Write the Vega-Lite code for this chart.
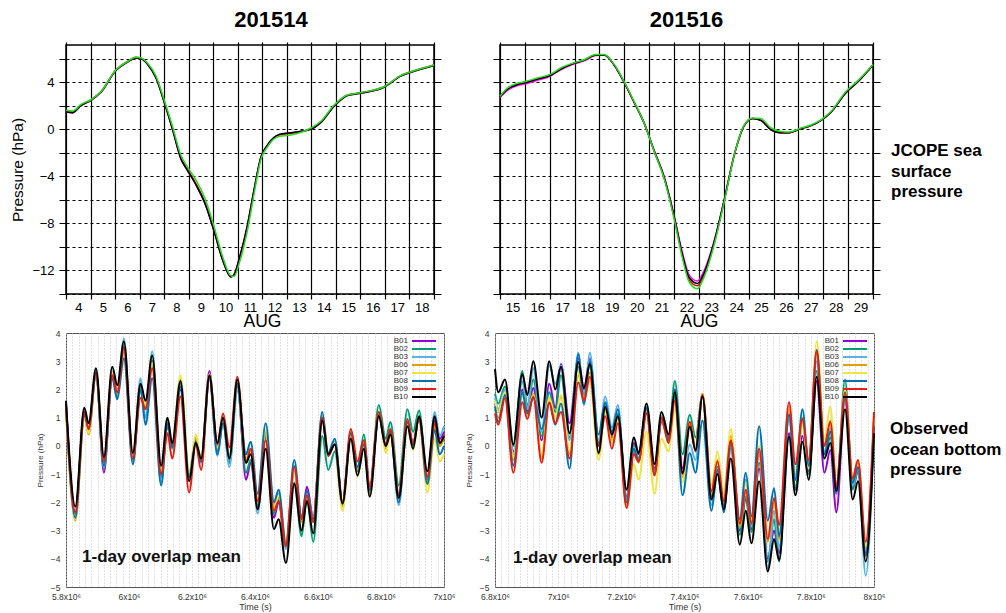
{
  "$schema": "https://vega.github.io/schema/vega-lite/v6.json",
  "background": "white",
  "padding": {"left": 10, "top": 8, "right": 5, "bottom": 0},
  "config": {
    "font": "Liberation Sans",
    "view": {"stroke": null},
    "axis": {"domain": false, "labelFont": "Liberation Sans", "titleFont": "Liberation Sans"},
    "title": {"font": "Liberation Sans"},
    "legend": {"labelFont": "Liberation Sans"}
  },
  "datasets": {
    "top1": [
      {"d":4.0,"m":1.45,"r":1.5,"k":1.45,"g":1.6},
      {"d":4.27,"m":1.4,"r":1.45,"k":1.4,"g":1.55},
      {"d":4.61,"m":2.0,"r":2.05,"k":2.0,"g":2.1},
      {"d":5.02,"m":2.45,"r":2.5,"k":2.45,"g":2.5},
      {"d":5.43,"m":3.15,"r":3.2,"k":3.15,"g":3.2},
      {"d":6.04,"m":5.0,"r":5.05,"k":5.0,"g":5.05},
      {"d":6.51,"m":5.7,"r":5.75,"k":5.7,"g":5.75},
      {"d":6.85,"m":6.05,"r":6.1,"k":6.05,"g":6.1},
      {"d":7.05,"m":6.0,"r":6.05,"k":6.0,"g":6.05},
      {"d":7.33,"m":5.5,"r":5.55,"k":5.5,"g":5.6},
      {"d":7.67,"m":4.35,"r":4.4,"k":4.35,"g":4.5},
      {"d":8.0,"m":2.3,"r":2.4,"k":2.3,"g":2.5},
      {"d":8.34,"m":0.0,"r":0.1,"k":0.0,"g":0.25},
      {"d":8.68,"m":-2.5,"r":-2.4,"k":-2.5,"g":-2.2},
      {"d":8.95,"m":-3.5,"r":-3.4,"k":-3.5,"g":-3.2},
      {"d":9.29,"m":-4.7,"r":-4.6,"k":-4.7,"g":-4.3},
      {"d":9.66,"m":-6.3,"r":-6.2,"k":-6.3,"g":-5.85},
      {"d":10.04,"m":-8.7,"r":-8.6,"k":-8.7,"g":-8.3},
      {"d":10.38,"m":-11.1,"r":-11.0,"k":-11.1,"g":-10.8},
      {"d":10.72,"m":-12.55,"r":-12.5,"k":-12.55,"g":-12.45},
      {"d":10.85,"m":-12.35,"r":-12.4,"k":-12.35,"g":-12.5},
      {"d":11.06,"m":-11.0,"r":-11.1,"k":-11.0,"g":-11.4},
      {"d":11.4,"m":-8.1,"r":-8.2,"k":-8.1,"g":-8.55},
      {"d":11.67,"m":-5.1,"r":-5.2,"k":-5.1,"g":-5.45},
      {"d":11.94,"m":-2.4,"r":-2.45,"k":-2.4,"g":-2.6},
      {"d":12.21,"m":-1.35,"r":-1.4,"k":-1.35,"g":-1.5},
      {"d":12.69,"m":-0.45,"r":-0.5,"k":-0.45,"g":-0.6},
      {"d":13.16,"m":-0.3,"r":-0.35,"k":-0.3,"g":-0.5},
      {"d":13.98,"m":0.0,"r":0.05,"k":0.0,"g":0.1},
      {"d":14.38,"m":0.55,"r":0.6,"k":0.55,"g":0.65},
      {"d":14.93,"m":1.95,"r":2.0,"k":1.95,"g":2.05},
      {"d":15.47,"m":2.85,"r":2.9,"k":2.85,"g":2.9},
      {"d":16.01,"m":3.05,"r":3.1,"k":3.05,"g":3.1},
      {"d":16.96,"m":3.55,"r":3.6,"k":3.55,"g":3.6},
      {"d":17.64,"m":4.5,"r":4.55,"k":4.5,"g":4.55},
      {"d":18.32,"m":5.0,"r":5.05,"k":5.0,"g":5.05},
      {"d":19.0,"m":5.4,"r":5.45,"k":5.4,"g":5.45}
    ],
    "top2": [
      {"d":15.0,"m":2.7,"r":2.75,"k":2.75,"g":2.8},
      {"d":15.3,"m":3.3,"r":3.4,"k":3.4,"g":3.5},
      {"d":15.7,"m":3.7,"r":3.8,"k":3.8,"g":3.9},
      {"d":16.02,"m":3.85,"r":3.95,"k":3.95,"g":4.05},
      {"d":16.5,"m":4.15,"r":4.25,"k":4.25,"g":4.35},
      {"d":17.01,"m":4.5,"r":4.55,"k":4.55,"g":4.65},
      {"d":17.44,"m":5.05,"r":5.1,"k":5.1,"g":5.2},
      {"d":17.91,"m":5.5,"r":5.55,"k":5.55,"g":5.6},
      {"d":18.38,"m":5.8,"r":5.85,"k":5.85,"g":5.9},
      {"d":18.85,"m":6.25,"r":6.3,"k":6.3,"g":6.35},
      {"d":19.19,"m":6.3,"r":6.3,"k":6.3,"g":6.35},
      {"d":19.59,"m":5.45,"r":5.45,"k":5.45,"g":5.5},
      {"d":19.99,"m":4.0,"r":4.0,"k":4.0,"g":4.05},
      {"d":20.39,"m":2.3,"r":2.3,"k":2.3,"g":2.35},
      {"d":20.8,"m":0.5,"r":0.5,"k":0.5,"g":0.5},
      {"d":21.2,"m":-1.8,"r":-1.85,"k":-1.85,"g":-1.9},
      {"d":21.6,"m":-4.0,"r":-4.1,"k":-4.1,"g":-4.2},
      {"d":22.0,"m":-7.3,"r":-7.45,"k":-7.4,"g":-7.6},
      {"d":22.34,"m":-10.5,"r":-10.8,"k":-10.7,"g":-11.0},
      {"d":22.61,"m":-12.4,"r":-12.8,"k":-12.6,"g":-13.0},
      {"d":22.94,"m":-12.9,"r":-13.3,"k":-13.1,"g":-13.55},
      {"d":23.21,"m":-12.0,"r":-12.35,"k":-12.2,"g":-12.55},
      {"d":23.61,"m":-9.5,"r":-9.7,"k":-9.6,"g":-9.85},
      {"d":24.02,"m":-5.95,"r":-6.05,"k":-6.0,"g":-6.15},
      {"d":24.42,"m":-2.15,"r":-2.2,"k":-2.2,"g":-2.2},
      {"d":24.82,"m":0.3,"r":0.3,"k":0.3,"g":0.35},
      {"d":25.16,"m":0.9,"r":0.9,"k":0.9,"g":0.95},
      {"d":25.49,"m":0.75,"r":0.75,"k":0.75,"g":0.9},
      {"d":25.9,"m":-0.05,"r":-0.05,"k":-0.05,"g":0.1},
      {"d":26.3,"m":-0.3,"r":-0.3,"k":-0.3,"g":-0.2},
      {"d":26.63,"m":-0.3,"r":-0.3,"k":-0.3,"g":-0.25},
      {"d":27.1,"m":0.05,"r":0.05,"k":0.05,"g":0.1},
      {"d":27.5,"m":0.3,"r":0.3,"k":0.3,"g":0.35},
      {"d":27.91,"m":0.75,"r":0.75,"k":0.75,"g":0.8},
      {"d":28.31,"m":1.45,"r":1.45,"k":1.45,"g":1.5},
      {"d":28.91,"m":3.1,"r":3.1,"k":3.1,"g":3.2},
      {"d":29.38,"m":4.0,"r":4.0,"k":4.0,"g":4.1},
      {"d":30.0,"m":5.45,"r":5.45,"k":5.45,"g":5.5}
    ],
    "bot1": [
      {"t":5800000,"B01":1.5,"B02":1.45,"B03":1.4,"B06":1.3,"B07":1.25,"B08":1.45,"B09":1.35,"B10":1.6},
      {"t":5829600,"B01":-2.4,"B02":-2.45,"B03":-2.5,"B06":-2.65,"B07":-2.6,"B08":-2.55,"B09":-2.35,"B10":-2.15},
      {"t":5858100,"B01":1.2,"B02":1.15,"B03":1.1,"B06":1.05,"B07":1.0,"B08":1.1,"B09":1.2,"B10":1.35},
      {"t":5871800,"B01":0.45,"B02":0.55,"B03":0.5,"B06":0.4,"B07":0.45,"B08":0.6,"B09":0.6,"B10":0.8},
      {"t":5895100,"B01":2.6,"B02":2.6,"B03":2.65,"B06":2.55,"B07":2.6,"B08":2.55,"B09":2.6,"B10":2.75},
      {"t":5920400,"B01":-0.95,"B02":-0.8,"B03":-0.75,"B06":-0.6,"B07":-0.5,"B08":-0.7,"B09":-0.55,"B10":-0.4},
      {"t":5946800,"B01":2.6,"B02":2.6,"B03":2.55,"B06":2.5,"B07":2.6,"B08":2.4,"B09":2.5,"B10":2.8},
      {"t":5962700,"B01":1.9,"B02":1.85,"B03":1.75,"B06":1.85,"B07":1.9,"B08":1.65,"B09":1.9,"B10":2.15},
      {"t":5983800,"B01":3.5,"B02":3.5,"B03":3.8,"B06":3.3,"B07":3.4,"B08":3.1,"B09":3.45,"B10":3.7},
      {"t":6012300,"B01":-0.45,"B02":-0.5,"B03":-0.55,"B06":-0.4,"B07":-0.35,"B08":-0.65,"B09":-0.45,"B10":-0.25},
      {"t":6036600,"B01":2.1,"B02":2.15,"B03":2.4,"B06":1.95,"B07":2.0,"B08":2.0,"B09":1.7,"B10":2.2},
      {"t":6052500,"B01":1.35,"B02":1.3,"B03":1.0,"B06":1.4,"B07":1.45,"B08":0.75,"B09":1.3,"B10":1.6},
      {"t":6073600,"B01":3.0,"B02":3.0,"B03":3.35,"B06":2.9,"B07":2.95,"B08":2.4,"B09":2.75,"B10":3.2},
      {"t":6102100,"B01":-1.0,"B02":-1.1,"B03":-1.3,"B06":-0.9,"B07":-0.85,"B08":-1.4,"B09":-1.0,"B10":-0.7},
      {"t":6122200,"B01":0.7,"B02":0.85,"B03":0.8,"B06":0.9,"B07":0.95,"B08":0.8,"B09":0.45,"B10":1.0},
      {"t":6137000,"B01":0.0,"B02":-0.1,"B03":-0.1,"B06":0.0,"B07":0.1,"B08":-0.05,"B09":-0.45,"B10":0.1},
      {"t":6163400,"B01":2.0,"B02":2.2,"B03":2.15,"B06":2.35,"B07":2.5,"B08":2.1,"B09":1.75,"B10":2.3},
      {"t":6190800,"B01":-1.1,"B02":-1.05,"B03":-1.1,"B06":-1.0,"B07":-0.95,"B08":-1.1,"B09":-1.65,"B10":-1.25},
      {"t":6212000,"B01":0.2,"B02":0.2,"B03":0.15,"B06":0.3,"B07":0.4,"B08":0.15,"B09":0.05,"B10":0.1},
      {"t":6228900,"B01":-0.5,"B02":-0.55,"B03":-0.6,"B06":-0.5,"B07":-0.45,"B08":-0.55,"B09":-0.85,"B10":-0.45},
      {"t":6255300,"B01":2.65,"B02":2.5,"B03":2.4,"B06":2.5,"B07":2.55,"B08":2.4,"B09":2.45,"B10":2.5},
      {"t":6280600,"B01":-0.15,"B02":-0.2,"B03":-0.35,"B06":-0.1,"B07":-0.05,"B08":-0.3,"B09":0.05,"B10":0.1},
      {"t":6298600,"B01":0.95,"B02":0.9,"B03":0.85,"B06":0.95,"B07":0.9,"B08":0.8,"B09":1.15,"B10":1.0},
      {"t":6318600,"B01":-0.6,"B02":-0.6,"B03":-0.75,"B06":-0.4,"B07":-0.35,"B08":-0.45,"B09":-0.05,"B10":-0.45},
      {"t":6344000,"B01":2.2,"B02":2.1,"B03":1.95,"B06":2.25,"B07":2.3,"B08":2.2,"B09":2.45,"B10":2.35},
      {"t":6371500,"B01":-1.2,"B02":-0.95,"B03":-0.5,"B06":-0.45,"B07":-0.5,"B08":-0.3,"B09":-0.6,"B10":-0.6},
      {"t":6386200,"B01":-0.6,"B02":-0.5,"B03":-0.1,"B06":-0.15,"B07":-0.1,"B08":0.15,"B09":-0.1,"B10":-0.3},
      {"t":6408400,"B01":-2.2,"B02":-2.1,"B03":-2.4,"B06":-2.0,"B07":-1.9,"B08":-1.7,"B09":-1.95,"B10":-2.25},
      {"t":6433800,"B01":0.3,"B02":0.35,"B03":0.5,"B06":0.4,"B07":0.55,"B08":0.8,"B09":0.2,"B10":-0.1},
      {"t":6460200,"B01":-2.55,"B02":-2.4,"B03":-2.1,"B06":-2.3,"B07":-2.2,"B08":-2.0,"B09":-2.3,"B10":-2.95},
      {"t":6475000,"B01":-2.0,"B02":-1.9,"B03":-1.7,"B06":-1.8,"B07":-1.75,"B08":-1.55,"B09":-1.95,"B10":-2.6},
      {"t":6498200,"B01":-3.5,"B02":-3.6,"B03":-3.65,"B06":-3.45,"B07":-3.4,"B08":-3.5,"B09":-3.55,"B10":-4.15},
      {"t":6524600,"B01":-0.8,"B02":-1.3,"B03":-0.7,"B06":-0.8,"B07":-0.8,"B08":-0.5,"B09":-0.75,"B10":-1.35},
      {"t":6547900,"B01":-2.6,"B02":-3.2,"B03":-2.6,"B06":-2.7,"B07":-2.6,"B08":-2.5,"B09":-2.6,"B10":-3.0},
      {"t":6564800,"B01":-1.45,"B02":-1.85,"B03":-1.7,"B06":-1.75,"B07":-1.7,"B08":-1.6,"B09":-1.75,"B10":-1.95},
      {"t":6584800,"B01":-2.55,"B02":-3.4,"B03":-2.7,"B06":-2.7,"B07":-2.6,"B08":-2.6,"B09":-2.7,"B10":-3.1},
      {"t":6613400,"B01":1.0,"B02":0.35,"B03":1.1,"B06":1.05,"B07":1.1,"B08":1.2,"B09":1.0,"B10":0.9},
      {"t":6632400,"B01":-0.35,"B02":-0.85,"B03":-0.3,"B06":-0.3,"B07":-0.25,"B08":-0.25,"B09":-0.35,"B10":-0.3},
      {"t":6653500,"B01":0.1,"B02":-0.2,"B03":0.15,"B06":0.1,"B07":0.1,"B08":0.25,"B09":0.05,"B10":0.05},
      {"t":6677800,"B01":-2.1,"B02":-2.1,"B03":-2.05,"B06":-2.15,"B07":-2.3,"B08":-2.0,"B09":-2.0,"B10":-2.05},
      {"t":6704200,"B01":0.4,"B02":0.35,"B03":0.4,"B06":0.5,"B07":0.35,"B08":0.45,"B09":0.6,"B10":0.25},
      {"t":6725300,"B01":-0.85,"B02":-0.9,"B03":-0.85,"B06":-0.8,"B07":-1.1,"B08":-0.75,"B09":-0.55,"B10":-1.05},
      {"t":6745400,"B01":0.1,"B02":0.4,"B03":0.05,"B06":0.15,"B07":-0.05,"B08":0.05,"B09":0.2,"B10":-0.1},
      {"t":6764400,"B01":-1.6,"B02":-1.55,"B03":-1.6,"B06":-1.6,"B07":-1.75,"B08":-1.55,"B09":-1.45,"B10":-1.8},
      {"t":6792900,"B01":1.15,"B02":1.45,"B03":1.1,"B06":1.2,"B07":1.15,"B08":1.1,"B09":1.2,"B10":1.05},
      {"t":6815100,"B01":0.05,"B02":0.25,"B03":0.0,"B06":-0.1,"B07":-0.25,"B08":0.0,"B09":0.05,"B10":0.0},
      {"t":6829900,"B01":0.5,"B02":0.85,"B03":0.5,"B06":0.5,"B07":0.4,"B08":0.5,"B09":0.6,"B10":0.4},
      {"t":6856300,"B01":-1.7,"B02":-1.4,"B03":-2.1,"B06":-1.8,"B07":-1.9,"B08":-2.0,"B09":-1.75,"B10":-1.85},
      {"t":6883800,"B01":0.8,"B02":1.3,"B03":0.8,"B06":0.8,"B07":0.75,"B08":0.85,"B09":0.95,"B10":0.7},
      {"t":6901700,"B01":0.05,"B02":0.5,"B03":0.1,"B06":0.0,"B07":-0.15,"B08":0.05,"B09":0.1,"B10":-0.1},
      {"t":6920700,"B01":1.0,"B02":1.25,"B03":1.0,"B06":1.0,"B07":0.95,"B08":1.0,"B09":1.0,"B10":1.05},
      {"t":6947100,"B01":-1.2,"B02":-1.1,"B03":-1.3,"B06":-1.3,"B07":-1.65,"B08":-1.35,"B09":-1.1,"B10":-0.9},
      {"t":6970400,"B01":0.9,"B02":0.6,"B03":1.2,"B06":0.7,"B07":0.25,"B08":0.55,"B09":0.8,"B10":1.05},
      {"t":6986200,"B01":0.25,"B02":0.0,"B03":0.35,"B06":0.0,"B07":-0.55,"B08":-0.3,"B09":0.1,"B10":0.1},
      {"t":7000000,"B01":0.5,"B02":0.3,"B03":0.7,"B06":0.3,"B07":-0.3,"B08":0.0,"B09":0.4,"B10":0.35}
    ],
    "bot2": [
      {"t":6800000,"B01":1.5,"B02":1.85,"B03":1.7,"B06":1.3,"B07":1.6,"B08":1.4,"B09":1.15,"B10":2.72},
      {"t":6810500,"B01":1.2,"B02":1.5,"B03":1.3,"B06":1.0,"B07":1.2,"B08":0.85,"B09":0.75,"B10":1.9},
      {"t":6831600,"B01":1.9,"B02":2.1,"B03":2.0,"B06":1.85,"B07":1.9,"B08":1.8,"B09":1.7,"B10":2.35},
      {"t":6858000,"B01":-0.2,"B02":0.0,"B03":-0.3,"B06":-0.5,"B07":-0.4,"B08":-0.7,"B09":-0.95,"B10":0.05},
      {"t":6886500,"B01":2.0,"B02":2.65,"B03":2.3,"B06":1.9,"B07":1.85,"B08":1.9,"B09":1.55,"B10":2.55},
      {"t":6902300,"B01":1.2,"B02":1.4,"B03":1.3,"B06":1.1,"B07":1.1,"B08":1.15,"B09":0.95,"B10":1.8},
      {"t":6921300,"B01":2.05,"B02":2.35,"B03":2.75,"B06":1.85,"B07":1.8,"B08":1.7,"B09":1.75,"B10":3.0},
      {"t":6947600,"B01":0.2,"B02":0.35,"B03":0.5,"B06":-0.45,"B07":-0.3,"B08":0.6,"B09":-0.6,"B10":1.0},
      {"t":6971900,"B01":2.2,"B02":1.9,"B03":2.85,"B06":1.7,"B07":1.7,"B08":1.5,"B09":1.55,"B10":3.0},
      {"t":6990900,"B01":1.35,"B02":1.2,"B03":2.2,"B06":1.0,"B07":1.0,"B08":0.75,"B09":0.8,"B10":2.0},
      {"t":7008800,"B01":2.9,"B02":2.5,"B03":2.85,"B06":1.75,"B07":1.8,"B08":1.5,"B09":1.2,"B10":2.8},
      {"t":7036200,"B01":0.8,"B02":0.3,"B03":0.2,"B06":-0.3,"B07":-0.2,"B08":-0.8,"B09":-0.45,"B10":0.45},
      {"t":7063600,"B01":3.1,"B02":2.8,"B03":3.3,"B06":2.5,"B07":2.6,"B08":3.25,"B09":2.25,"B10":2.97},
      {"t":7081600,"B01":2.0,"B02":1.8,"B03":1.45,"B06":1.7,"B07":1.65,"B08":1.5,"B09":1.6,"B10":2.05},
      {"t":7100500,"B01":3.1,"B02":2.9,"B03":3.3,"B06":2.6,"B07":2.3,"B08":3.0,"B09":2.45,"B10":2.9},
      {"t":7128000,"B01":0.05,"B02":0.1,"B03":0.2,"B06":-0.3,"B07":-0.5,"B08":0.4,"B09":0.0,"B10":-0.25},
      {"t":7149000,"B01":1.4,"B02":1.5,"B03":1.75,"B06":1.3,"B07":1.2,"B08":1.55,"B09":1.05,"B10":1.38},
      {"t":7170100,"B01":0.3,"B02":0.35,"B03":0.65,"B06":0.2,"B07":0.1,"B08":0.5,"B09":-0.1,"B10":0.4},
      {"t":7189100,"B01":1.1,"B02":1.15,"B03":1.45,"B06":1.0,"B07":0.9,"B08":1.3,"B09":0.8,"B10":1.05},
      {"t":7216500,"B01":-1.8,"B02":-1.85,"B03":-1.9,"B06":-2.1,"B07":-2.15,"B08":-2.0,"B09":-2.2,"B10":-1.55},
      {"t":7239700,"B01":0.1,"B02":0.0,"B03":-0.05,"B06":-0.2,"B07":-0.65,"B08":-0.1,"B09":-0.3,"B10":0.3},
      {"t":7254500,"B01":-0.3,"B02":-0.45,"B03":-0.5,"B06":-0.6,"B07":-1.2,"B08":-0.55,"B09":-0.55,"B10":-0.25},
      {"t":7279800,"B01":1.35,"B02":1.3,"B03":1.4,"B06":1.2,"B07":0.5,"B08":1.35,"B09":1.15,"B10":1.5},
      {"t":7305100,"B01":-0.8,"B02":-0.85,"B03":-0.95,"B06":-1.0,"B07":-1.7,"B08":-1.0,"B09":-1.05,"B10":-0.65},
      {"t":7327300,"B01":0.85,"B02":1.0,"B03":1.05,"B06":0.9,"B07":0.25,"B08":1.0,"B09":1.0,"B10":1.2},
      {"t":7349400,"B01":0.3,"B02":0.25,"B03":0.2,"B06":0.15,"B07":-0.2,"B08":0.2,"B09":0.1,"B10":0.4},
      {"t":7369400,"B01":2.0,"B02":2.3,"B03":1.8,"B06":1.7,"B07":1.3,"B08":1.8,"B09":1.6,"B10":1.9},
      {"t":7393700,"B01":-0.8,"B02":-0.3,"B03":-1.0,"B06":-1.1,"B07":-1.3,"B08":-1.75,"B09":-1.0,"B10":-0.95},
      {"t":7416900,"B01":0.8,"B02":1.1,"B03":0.05,"B06":0.85,"B07":0.8,"B08":-0.25,"B09":0.85,"B10":0.68},
      {"t":7434800,"B01":-0.1,"B02":0.3,"B03":-0.5,"B06":-0.1,"B07":-0.05,"B08":-0.95,"B09":-0.2,"B10":-0.15},
      {"t":7457000,"B01":1.8,"B02":1.8,"B03":1.8,"B06":1.85,"B07":1.8,"B08":0.9,"B09":1.8,"B10":1.75},
      {"t":7485400,"B01":-1.8,"B02":-1.85,"B03":-2.1,"B06":-1.7,"B07":-1.4,"B08":-2.3,"B09":-1.6,"B10":-1.9},
      {"t":7504400,"B01":-0.8,"B02":-0.75,"B03":-0.8,"B06":-0.5,"B07":-0.2,"B08":-0.85,"B09":-0.55,"B10":-1.0},
      {"t":7524400,"B01":-2.1,"B02":-2.15,"B03":-2.3,"B06":-1.9,"B07":-1.7,"B08":-2.35,"B09":-1.95,"B10":-2.25},
      {"t":7546600,"B01":0.1,"B02":-0.1,"B03":0.0,"B06":0.35,"B07":0.6,"B08":0.15,"B09":0.2,"B10":-0.45},
      {"t":7575100,"B01":-3.0,"B02":-3.15,"B03":-2.9,"B06":-2.85,"B07":-2.7,"B08":-2.6,"B09":-2.75,"B10":-3.5},
      {"t":7594000,"B01":-1.9,"B02":-1.8,"B03":-1.2,"B06":-1.6,"B07":-1.3,"B08":-0.95,"B09":-1.55,"B10":-2.3},
      {"t":7612000,"B01":-2.95,"B02":-3.05,"B03":-2.8,"B06":-2.75,"B07":-2.6,"B08":-2.5,"B09":-2.75,"B10":-3.45},
      {"t":7636200,"B01":-0.8,"B02":-0.6,"B03":-0.3,"B06":-0.2,"B07":0.0,"B08":0.7,"B09":-0.1,"B10":-1.25},
      {"t":7663600,"B01":-4.0,"B02":-4.1,"B03":-4.35,"B06":-3.4,"B07":-3.2,"B08":-2.65,"B09":-3.3,"B10":-4.45},
      {"t":7683700,"B01":-3.0,"B02":-2.6,"B03":-2.3,"B06":-2.0,"B07":-1.9,"B08":-1.5,"B09":-1.85,"B10":-3.3},
      {"t":7699500,"B01":-3.8,"B02":-4.1,"B03":-3.6,"B06":-3.3,"B07":-3.15,"B08":-3.2,"B09":-2.8,"B10":-4.05},
      {"t":7731100,"B01":0.45,"B02":1.2,"B03":1.0,"B06":1.3,"B07":1.4,"B08":1.1,"B09":1.55,"B10":0.33},
      {"t":7751100,"B01":-1.55,"B02":-1.5,"B03":-1.2,"B06":-1.0,"B07":-0.95,"B08":-1.2,"B09":-0.65,"B10":-1.75},
      {"t":7773300,"B01":0.35,"B02":0.9,"B03":1.0,"B06":1.0,"B07":0.8,"B08":1.3,"B09":0.95,"B10":0.15},
      {"t":7793300,"B01":-0.9,"B02":-1.0,"B03":-0.8,"B06":-0.6,"B07":-0.8,"B08":-0.7,"B09":-0.5,"B10":-1.2},
      {"t":7818600,"B01":2.3,"B02":2.65,"B03":3.0,"B06":3.3,"B07":3.7,"B08":3.4,"B09":3.35,"B10":2.45},
      {"t":7842900,"B01":-0.95,"B02":-0.3,"B03":-0.2,"B06":0.05,"B07":0.25,"B08":-0.3,"B09":0.0,"B10":-0.45},
      {"t":7861900,"B01":-0.15,"B02":0.3,"B03":0.6,"B06":0.9,"B07":1.4,"B08":0.5,"B09":0.85,"B10":0.1},
      {"t":7880900,"B01":-2.35,"B02":-1.7,"B03":-1.5,"B06":-1.4,"B07":-1.45,"B08":-1.5,"B09":-1.4,"B10":-1.6},
      {"t":7908300,"B01":1.7,"B02":2.35,"B03":1.8,"B06":1.85,"B07":2.0,"B08":1.75,"B09":1.9,"B10":1.3},
      {"t":7932500,"B01":-1.5,"B02":-1.55,"B03":-1.4,"B06":-1.2,"B07":-1.1,"B08":-1.3,"B09":-1.15,"B10":-1.9},
      {"t":7949400,"B01":-0.9,"B02":-0.85,"B03":-0.8,"B06":-0.55,"B07":-0.55,"B08":-0.75,"B09":-0.5,"B10":-1.25},
      {"t":7973700,"B01":-3.8,"B02":-3.9,"B03":-4.6,"B06":-3.6,"B07":-3.55,"B08":-3.85,"B09":-3.4,"B10":-4.1},
      {"t":8000000,"B01":0.9,"B02":0.8,"B03":0.7,"B06":1.0,"B07":1.0,"B08":0.7,"B09":1.2,"B10":0.45}
    ]
  },
  "bounds": "full",
  "spacing": -3,
  "resolve": {"scale": {"color": "independent", "strokeWidth": "independent"}, "legend": {"color": "independent"}},
  "vconcat": [
    {
      "bounds": "flush",
      "spacing": 66,
      "resolve": {"scale": {"color": "independent", "strokeWidth": "independent"}, "legend": {"color": "independent"}},
      "hconcat": [
        {
          "width": 368,
          "height": 249,
          "title": {"text": "201514", "fontSize": 22, "fontWeight": "bold", "offset": -8, "dx": 21, "baseline": "alphabetic", "color": "#000"},
          "view": {"stroke": "#000", "strokeWidth": 1.5},
          "data": {"name": "top1"},
          "transform": [{"fold": ["m", "r", "k", "g"], "as": ["ser", "p"]}],
          "resolve": {"axis": {"x": "independent", "y": "independent"}},
          "layer": [
            {
              "mark": {"type": "line", "interpolate": "monotone"},
              "encoding": {
                "x": {"field": "d", "type": "quantitative", "scale": {"domain": [4, 19], "nice": false, "zero": false},
                  "axis": {"values": [4,5,6,7,8,9,10,11,12,13,14,15,16,17,18,19], "grid": true, "gridColor": "#000", "gridOpacity": 1, "gridWidth": 1.2,
                    "ticks": true, "tickSize": 5, "tickColor": "#000", "tickWidth": 1.2, "labelOffset": 12.3, "labelPadding": 2, "labelFontSize": 13, "labelColor": "#000",
                    "labelExpr": "datum.value < 19 ? datum.label : ''", "labelFlush": false, "labelOverlap": false, "labelBound": false,
                    "title": "AUG", "titleFontSize": 17.5, "titleFontWeight": "normal", "titleX": 196, "titleY": 32, "titleBaseline": "alphabetic", "titleColor": "#000"}},
                "y": {"field": "p", "type": "quantitative", "scale": {"domain": [-14, 7.15], "nice": false, "zero": false},
                  "axis": {"values": [-14,-12,-10,-8,-6,-4,-2,0,2,4,6], "grid": true, "gridColor": "#000", "gridOpacity": 1, "gridDash": [3, 3], "gridWidth": 1,
                    "ticks": true, "tickSize": 7, "tickColor": "#000", "labelPadding": 5, "labelFontSize": 13, "labelColor": "#000",
                    "labelExpr": "datum.value % 4 == 0 ? datum.label : ''", "labelOverlap": false, "labelFlush": false,
                    "title": "Pressure (hPa)", "titleFontSize": 15.5, "titleFontWeight": "normal", "titleColor": "#000", "titlePadding": 6}},
                "color": {"field": "ser", "type": "nominal", "scale": {"domain": ["m", "r", "k", "g"], "range": ["#ff00ff", "#dd0000", "#000000", "#22dd22"]}, "legend": null},
                "strokeWidth": {"field": "ser", "type": "nominal", "scale": {"domain": ["m", "r", "k", "g"], "range": [1.5, 1.5, 1.5, 2.8]}, "legend": null}
              }
            },
            {
              "mark": {"type": "line", "opacity": 0},
              "encoding": {
                "x": {"field": "d", "type": "quantitative",
                  "axis": {"orient": "top", "values": [4,5,6,7,8,9,10,11,12,13,14,15,16,17,18,19], "grid": false, "labels": false, "ticks": true, "tickSize": 3, "tickColor": "#000", "tickWidth": 1.2, "title": null}},
                "y": {"field": "p", "type": "quantitative",
                  "axis": {"orient": "right", "values": [-14,-12,-10,-8,-6,-4,-2,0,2,4,6], "grid": false, "labels": false, "ticks": true, "tickSize": 7, "tickColor": "#000", "title": null}},
                "detail": {"field": "ser"}
              }
            }
          ]
        },
        {
          "bounds": "flush",
          "spacing": 18,
          "resolve": {"scale": {"color": "independent", "strokeWidth": "independent"}, "legend": {"color": "independent"}},
          "hconcat": [
            {
              "width": 373,
              "height": 249,
              "title": {"text": "201516", "fontSize": 22, "fontWeight": "bold", "offset": -8, "baseline": "alphabetic", "color": "#000"},
              "view": {"stroke": "#000", "strokeWidth": 1.5},
              "data": {"name": "top2"},
              "transform": [{"fold": ["m", "r", "k", "g"], "as": ["ser", "p"]}],
              "resolve": {"axis": {"x": "independent", "y": "independent"}},
              "layer": [
                {
                  "mark": {"type": "line", "interpolate": "monotone"},
                  "encoding": {
                    "x": {"field": "d", "type": "quantitative", "scale": {"domain": [15, 30], "nice": false, "zero": false},
                      "axis": {"values": [15,16,17,18,19,20,21,22,23,24,25,26,27,28,29,30], "grid": true, "gridColor": "#000", "gridOpacity": 1, "gridWidth": 1.2,
                        "ticks": true, "tickSize": 5, "tickColor": "#000", "tickWidth": 1.2, "labelOffset": 12.4, "labelPadding": 2, "labelFontSize": 13, "labelColor": "#000",
                        "labelExpr": "datum.value < 30 ? datum.label : ''", "labelFlush": false, "labelOverlap": false, "labelBound": false,
                        "title": "AUG", "titleFontSize": 17.5, "titleFontWeight": "normal", "titleX": 199, "titleY": 32, "titleBaseline": "alphabetic", "titleColor": "#000"}},
                    "y": {"field": "p", "type": "quantitative", "scale": {"domain": [-14, 7.15], "nice": false, "zero": false},
                      "axis": {"values": [-14,-12,-10,-8,-6,-4,-2,0,2,4,6], "grid": true, "gridColor": "#000", "gridOpacity": 1, "gridDash": [3, 3], "gridWidth": 1,
                        "ticks": true, "tickSize": 7, "tickColor": "#000", "labels": false, "title": null}},
                    "color": {"field": "ser", "type": "nominal", "scale": {"domain": ["m", "r", "k", "g"], "range": ["#ff00ff", "#dd0000", "#000000", "#22dd22"]}, "legend": null},
                    "strokeWidth": {"field": "ser", "type": "nominal", "scale": {"domain": ["m", "r", "k", "g"], "range": [1.5, 1.5, 1.5, 2.8]}, "legend": null}
                  }
                },
                {
                  "mark": {"type": "line", "opacity": 0},
                  "encoding": {
                    "x": {"field": "d", "type": "quantitative",
                      "axis": {"orient": "top", "values": [15,16,17,18,19,20,21,22,23,24,25,26,27,28,29,30], "grid": false, "labels": false, "ticks": true, "tickSize": 3, "tickColor": "#000", "tickWidth": 1.2, "title": null}},
                    "y": {"field": "p", "type": "quantitative",
                      "axis": {"orient": "right", "values": [-14,-12,-10,-8,-6,-4,-2,0,2,4,6], "grid": false, "labels": false, "ticks": true, "tickSize": 7, "tickColor": "#000", "title": null}},
                    "detail": {"field": "ser"}
                  }
                }
              ]
            },
            {
              "width": 110,
              "height": 249,
              "data": {"values": [{"txt": "JCOPE sea", "r": 0}, {"txt": "surface", "r": 1}, {"txt": "pressure", "r": 2}]},
              "mark": {"type": "text", "align": "left", "baseline": "middle", "fontSize": 17, "fontWeight": "bold", "font": "Liberation Sans", "color": "#000"},
              "encoding": {
                "x": {"datum": 0, "type": "quantitative", "scale": {"domain": [0, 1]}, "axis": null},
                "y": {"field": "r", "type": "quantitative", "scale": {"domain": [-5.3, 7.1], "reverse": true}, "axis": null},
                "text": {"field": "txt"}
              }
            }
          ]
        }
      ]
    },
    {
      "bounds": "flush",
      "spacing": 51,
      "resolve": {"scale": {"color": "independent", "strokeWidth": "independent"}, "legend": {"color": "independent"}},
      "hconcat": [
        {
          "width": 378,
          "height": 254,
          "view": {"stroke": "#555", "strokeWidth": 1},
          "resolve": {"axis": {"x": "independent", "y": "independent"}},
          "layer": [
            {
              "data": {"name": "bot1"},
              "transform": [{"fold": ["B01", "B02", "B03", "B06", "B07", "B08", "B09", "B10"], "as": ["station", "p"]}],
              "mark": {"type": "line", "interpolate": "monotone", "strokeWidth": 2},
              "encoding": {
                "x": {"field": "t", "type": "quantitative", "scale": {"domain": [5800000, 7000000], "nice": false, "zero": false},
                  "axis": {"tickCount": 60, "grid": true, "gridColor": "#c4c4c4", "gridDash": [1, 2], "gridWidth": 1, "ticks": false,
                    "labelExpr": "abs(datum.value % 200000) < 1 ? (datum.value / 1000000) + 'x10⁶' : ''",
                    "labelFontSize": 8.5, "labelColor": "#333", "labelPadding": 5, "labelFlush": false, "labelOverlap": false, "labelBound": false,
                    "title": "Time (s)", "titleFontSize": 9, "titleFontWeight": "normal", "titleColor": "#333", "titlePadding": 2}},
                "y": {"field": "p", "type": "quantitative", "scale": {"domain": [-5, 4], "nice": false, "zero": false},
                  "axis": {"values": [-5,-4,-3,-2,-1,0,1,2,3,4], "grid": false, "ticks": false, "labelFontSize": 8.5, "labelColor": "#333", "labelPadding": 6, "labelFlush": false, "labelOverlap": false, "labelBound": false,
                    "title": "Pressure (hPa)", "titleFontSize": 8, "titleFontWeight": "normal", "titleColor": "#333", "titlePadding": 6}},
                "color": {"field": "station", "type": "nominal",
                  "scale": {"domain": ["B01", "B02", "B03", "B06", "B07", "B08", "B09", "B10"], "range": ["#9400d3", "#009e73", "#56b4e9", "#e69f00", "#f0e442", "#0072b2", "#e51e10", "#000000"]},
                  "legend": {"orient": "none", "legendX": 342, "legendY": 4, "title": null, "symbolType": "M0,0H8", "symbolSize": 36, "symbolStrokeWidth": 2,
                    "labelFontSize": 8, "labelOffset": -8, "labelAlign": "right", "labelColor": "#333", "rowPadding": 0, "padding": 0}}
              }
            },
            {
              "data": {"values": [{}]},
              "mark": {"type": "text", "align": "left", "baseline": "middle", "fontSize": 17, "fontWeight": "bold", "font": "Liberation Sans", "color": "#111"},
              "encoding": {
                "x": {"datum": 5851000, "type": "quantitative", "axis": null},
                "y": {"datum": -3.94, "type": "quantitative", "axis": null},
                "text": {"value": "1-day overlap mean"}
              }
            }
          ]
        },
        {
          "bounds": "flush",
          "spacing": 16,
          "resolve": {"scale": {"color": "independent", "strokeWidth": "independent"}, "legend": {"color": "independent"}},
          "hconcat": [
            {
              "width": 379,
              "height": 254,
              "view": {"stroke": "#555", "strokeWidth": 1},
              "resolve": {"axis": {"x": "independent", "y": "independent"}},
              "layer": [
                {
                  "data": {"name": "bot2"},
                  "transform": [{"fold": ["B01", "B02", "B03", "B06", "B07", "B08", "B09", "B10"], "as": ["station", "p"]}],
                  "mark": {"type": "line", "interpolate": "monotone", "strokeWidth": 2},
                  "encoding": {
                    "x": {"field": "t", "type": "quantitative", "scale": {"domain": [6800000, 8000000], "nice": false, "zero": false},
                      "axis": {"tickCount": 60, "grid": true, "gridColor": "#c4c4c4", "gridDash": [1, 2], "gridWidth": 1, "ticks": false,
                        "labelExpr": "abs(datum.value % 200000) < 1 ? (datum.value / 1000000) + 'x10⁶' : ''",
                        "labelFontSize": 8.5, "labelColor": "#333", "labelPadding": 5, "labelFlush": false, "labelOverlap": false, "labelBound": false,
                        "title": "Time (s)", "titleFontSize": 9, "titleFontWeight": "normal", "titleColor": "#333", "titlePadding": 2}},
                    "y": {"field": "p", "type": "quantitative", "scale": {"domain": [-5, 4], "nice": false, "zero": false},
                      "axis": {"values": [-5,-4,-3,-2,-1,0,1,2,3,4], "grid": false, "ticks": false, "labelFontSize": 8.5, "labelColor": "#333", "labelPadding": 6, "labelFlush": false, "labelOverlap": false, "labelBound": false,
                        "title": "Pressure (hPa)", "titleFontSize": 8, "titleFontWeight": "normal", "titleColor": "#333", "titlePadding": 6}},
                    "color": {"field": "station", "type": "nominal",
                      "scale": {"domain": ["B01", "B02", "B03", "B06", "B07", "B08", "B09", "B10"], "range": ["#9400d3", "#009e73", "#56b4e9", "#e69f00", "#f0e442", "#0072b2", "#e51e10", "#000000"]},
                      "legend": {"orient": "none", "legendX": 344, "legendY": 4, "title": null, "symbolType": "M0,0H8", "symbolSize": 36, "symbolStrokeWidth": 2,
                        "labelFontSize": 8, "labelOffset": -8, "labelAlign": "right", "labelColor": "#333", "rowPadding": 0, "padding": 0}}
                  }
                },
                {
                  "data": {"values": [{}]},
                  "mark": {"type": "text", "align": "left", "baseline": "middle", "fontSize": 17, "fontWeight": "bold", "font": "Liberation Sans", "color": "#111"},
                  "encoding": {
                    "x": {"datum": 6857000, "type": "quantitative", "axis": null},
                    "y": {"datum": -3.99, "type": "quantitative", "axis": null},
                    "text": {"value": "1-day overlap mean"}
                  }
                }
              ]
            },
            {
              "width": 110,
              "height": 254,
              "data": {"values": [{"txt": "Observed", "r": 0}, {"txt": "ocean bottom", "r": 1}, {"txt": "pressure", "r": 2}]},
              "mark": {"type": "text", "align": "left", "baseline": "middle", "fontSize": 17, "fontWeight": "bold", "font": "Liberation Sans", "color": "#000"},
              "encoding": {
                "x": {"datum": 0, "type": "quantitative", "scale": {"domain": [0, 1]}, "axis": null},
                "y": {"field": "r", "type": "quantitative", "scale": {"domain": [-4.57, 7.57], "reverse": true}, "axis": null},
                "text": {"field": "txt"}
              }
            }
          ]
        }
      ]
    }
  ]
}
